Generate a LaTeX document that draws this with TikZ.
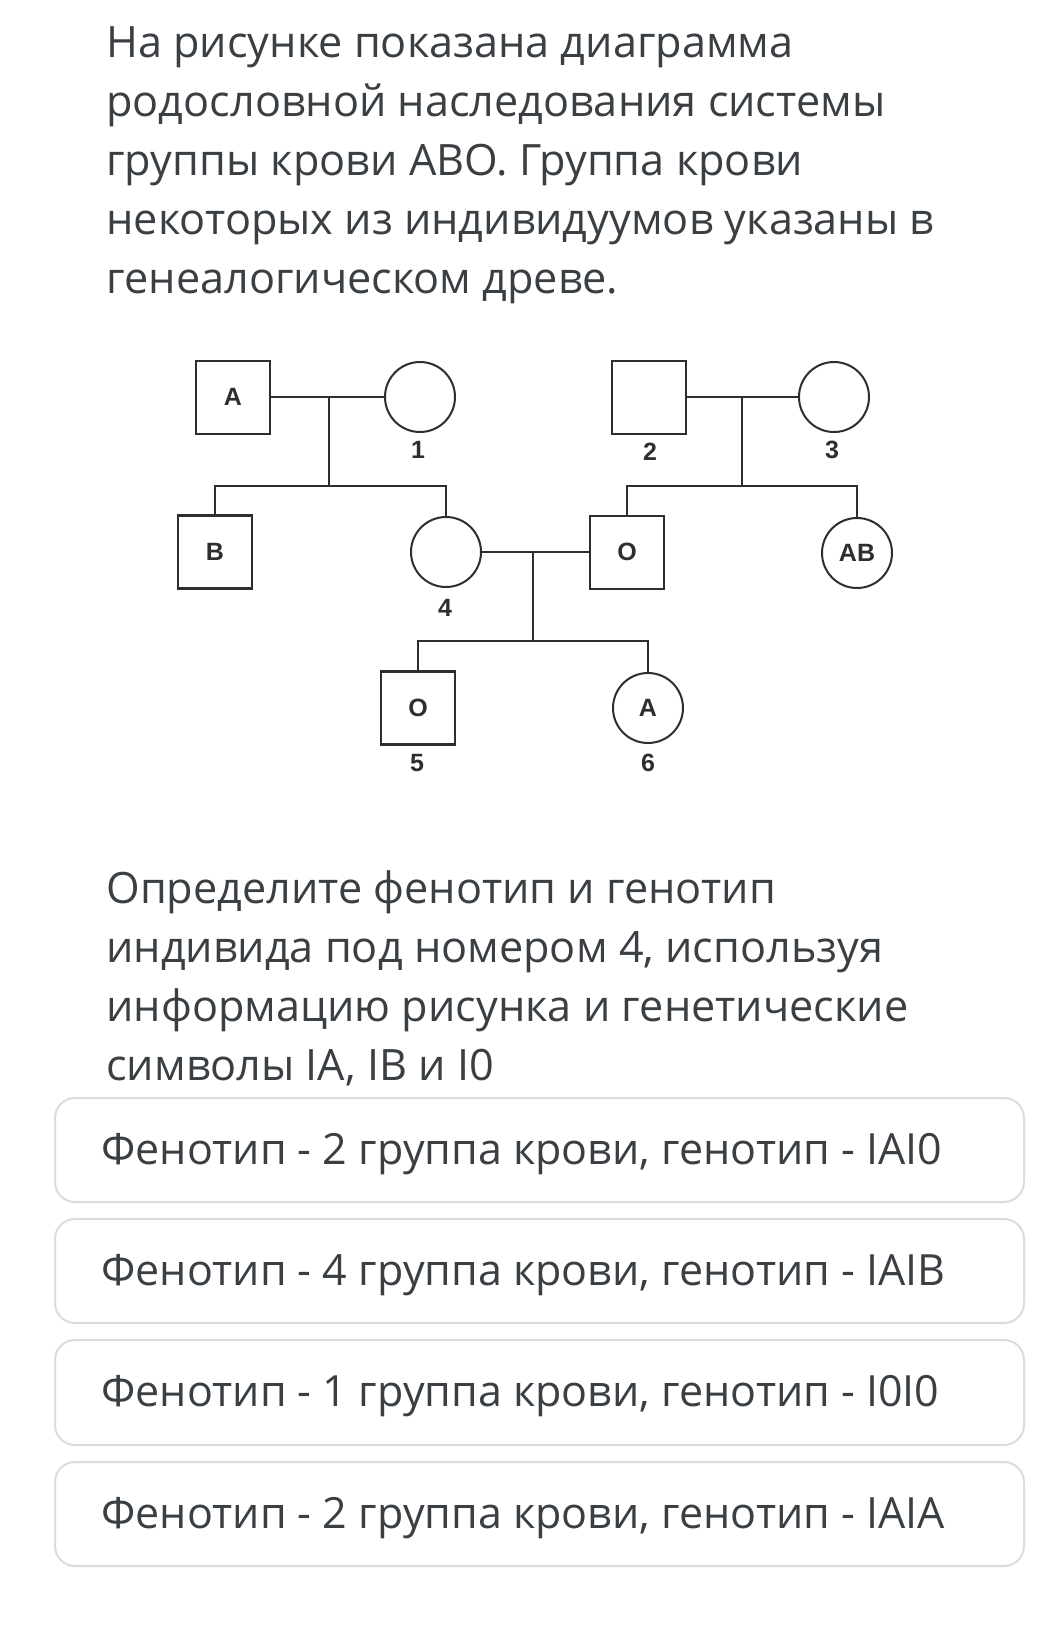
\documentclass[tikz,border=0pt]{standalone}
\usepackage{fontspec}
\setmainfont{Open Sans}
\newfontfamily\pedfont{Liberation Sans}
\definecolor{txt}{HTML}{3A3F44}
\definecolor{boxline}{HTML}{DADCDD}
\definecolor{ped}{HTML}{2E2E2E}
\begin{document}
\begin{tikzpicture}[x=0.5pt,y=-0.5pt,
  headtxt/.style={anchor=base west,inner sep=0pt,text=txt,font=\fontsize{21.6}{26}\selectfont},
  opttxt/.style={anchor=base west,inner sep=0pt,text=txt,font=\fontsize{21.5}{26}\selectfont},
  optbox/.style={draw=boxline,line width=1pt,fill=white,rounded corners=10pt},
  sq/.style={draw=ped,line width=1pt,rectangle,minimum width=37pt,minimum height=36.5pt,inner sep=0pt,font=\pedfont\bfseries\fontsize{12.5}{15}\selectfont,text=ped},
  circ/.style={draw=ped,line width=1pt,circle,minimum size=35pt,inner sep=0pt,font=\pedfont\bfseries\fontsize{12.5}{15}\selectfont,text=ped},
  num/.style={inner sep=0pt,font=\pedfont\bfseries\fontsize{12.5}{15}\selectfont,text=ped},
  link/.style={draw=ped,line width=1pt}]
\useasboundingbox[fill=white] (0,0) rectangle (1046,1651);

% heading
\node[headtxt] (h1) at (106,57) {На рисунке показана диаграмма};
\node[headtxt] (h2) at (106,116) {родословной наследования системы};
\node[headtxt] (h3) at (106,175) {группы крови АВО. Группа крови};
\node[headtxt] (h4) at (106,234) {некоторых из индивидуумов указаны в};
\node[headtxt] (h5) at (106,293) {генеалогическом древе.};

% pedigree
\node[sq] (pA) at (233,397) {A};
\node[circ] (p1) at (420,397) {};
\node[sq] (p2) at (649,397) {};
\node[circ] (p3) at (834,397) {};
\node[sq,line width=1.4pt] (pB) at (215,552) {B};
\node[circ] (p4) at (446,552) {};
\node[sq] (pO) at (627,552) {O};
\node[circ] (pAB) at (857,553) {AB};
\node[sq,line width=1.3pt] (p5) at (418,708) {O};
\node[circ] (p6) at (648,708) {A};

\node[num] (l1) at (418,450) {1};
\node[num] (l2) at (650,452) {2};
\node[num] (l3) at (832,450) {3};
\node[num] (l4) at (445,608) {4};
\node[num] (l5) at (417,763) {5};
\node[num] (l6) at (648,763) {6};

\coordinate (m1) at (329,397);
\coordinate (s1) at (329,486);
\coordinate (m2) at (742,397);
\coordinate (s2) at (742,486);
\coordinate (m3) at (533,552);
\coordinate (s3) at (533,641);

\draw[link] (pA.east) -- (p1.west);
\draw[link] (m1) -- (s1);
\draw[link] (pB.north) |- (s1) -| (p4.north);
\draw[link] (p2.east) -- (p3.west);
\draw[link] (m2) -- (s2);
\draw[link] (pO.north) |- (s2) -| (pAB.north);
\draw[link] (p4.east) -- (pO.west);
\draw[link] (m3) -- (s3);
\draw[link] (p5.north) |- (s3) -| (p6.north);

% question
\node[headtxt] (q1) at (106,903) {Определите фенотип и генотип};
\node[headtxt] (q2) at (106,962) {индивида под номером 4, используя};
\node[headtxt] (q3) at (106,1021) {информацию рисунка и генетические};
\node[headtxt] (q4) at (106,1080) {символы IA, IB и I0};

% options
\path[optbox] (55,1098) rectangle (1024,1202);
\path[optbox] (55,1219) rectangle (1024,1323);
\path[optbox] (55,1340) rectangle (1024,1445);
\path[optbox] (55,1462) rectangle (1024,1566);
\node[opttxt] (o1) at (101,1164) {Фенотип - 2 группа крови, генотип - IAI0};
\node[opttxt] (o2) at (101,1285) {Фенотип - 4 группа крови, генотип - IAIB};
\node[opttxt] (o3) at (101,1406) {Фенотип - 1 группа крови, генотип - I0I0};
\node[opttxt] (o4) at (101,1528) {Фенотип - 2 группа крови, генотип - IAIA};
\end{tikzpicture}
\end{document}
